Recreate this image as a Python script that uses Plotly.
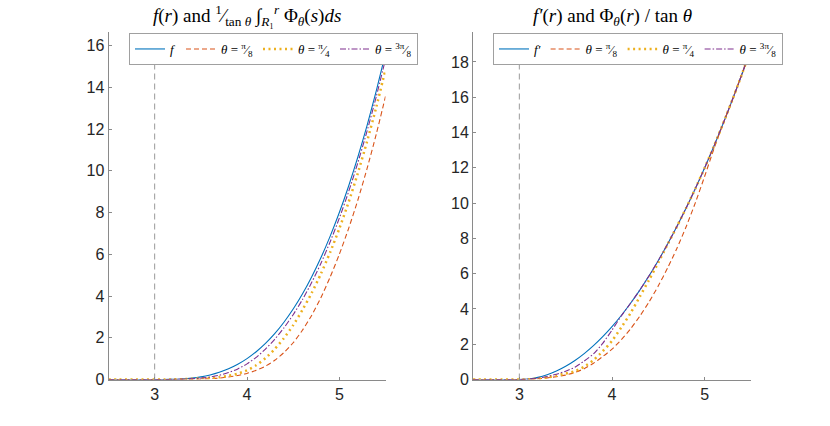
import plotly.graph_objects as go

# radius samples
r = [2.5, 2.6, 2.7, 2.8, 2.9, 3.0, 3.1, 3.2, 3.3, 3.4, 3.5, 3.6, 3.7, 3.8, 3.9, 4.0,
     4.1, 4.2, 4.3, 4.4, 4.5, 4.6, 4.7, 4.8, 4.9, 5.0, 5.1, 5.2, 5.3, 5.4, 5.5]
R1 = 3

# left panel: f(r) and 1/tan(theta) * int Phi
f_left = [0, 0, 0, 0, 0, 0,
          0.001, 0.008, 0.027, 0.064, 0.125, 0.216, 0.343, 0.512, 0.729, 1.0,
          1.331, 1.728, 2.197, 2.744, 3.375, 4.096, 4.913, 5.832, 6.859, 8.0,
          9.261, 10.648, 12.167, 13.824, 15.625]
t1_left = [0, 0, 0, 0, 0, 0,
           0.0, 0.001, 0.004, 0.01, 0.02, 0.04, 0.07, 0.12, 0.19, 0.29,
           0.44, 0.64, 0.92, 1.29, 1.76, 2.36, 3.07, 3.92, 4.90, 6.0,
           7.23, 8.59, 10.1, 11.76, 13.56]
t2_left = [0, 0, 0, 0, 0, 0,
           0.001, 0.007, 0.017, 0.034, 0.055, 0.076, 0.113, 0.172, 0.279, 0.44,
           0.68, 1.02, 1.46, 1.98, 2.6, 3.33, 4.14, 5.06, 6.09, 7.23,
           8.49, 9.88, 11.4, 13.05, 14.86]
t3_left = [0, 0, 0, 0, 0, 0,
           0.001, 0.006, 0.017, 0.034, 0.065, 0.116, 0.203, 0.332, 0.509, 0.75,
           1.061, 1.458, 1.927, 2.474, 3.105, 3.826, 4.643, 5.562, 6.589, 7.73,
           8.991, 10.378, 11.897, 13.554, 15.355]

# right panel: f'(r) and Phi/tan(theta)
f_right = [0, 0, 0, 0, 0, 0,
           0.03, 0.12, 0.27, 0.48, 0.75, 1.08, 1.47, 1.92, 2.43, 3.0,
           3.63, 4.32, 5.07, 5.88, 6.75, 7.68, 8.67, 9.72, 10.83, 12.0,
           13.23, 14.52, 15.87, 17.28, 18.75]
t1_right = [0, 0, 0, 0, 0, 0,
            0.01, 0.04, 0.09, 0.16, 0.25, 0.40, 0.61, 0.92, 1.30, 1.72,
            2.25, 2.87, 3.59, 4.40, 5.31, 6.32, 7.43, 8.66, 10.03, 11.52,
            13.08, 14.52, 15.87, 17.28, 18.75]
t2_right = [0, 0, 0, 0, 0, 0,
            0.01, 0.05, 0.12, 0.22, 0.34, 0.47, 0.72, 1.10, 1.60, 2.19,
            2.95, 3.76, 4.70, 5.65, 6.63, 7.66, 8.67, 9.72, 10.83, 12.0,
            13.23, 14.52, 15.87, 17.28, 18.75]
t3_right = [0, 0, 0, 0, 0, 0,
            0.02, 0.08, 0.17, 0.30, 0.47, 0.70, 1.05, 1.45, 2.05, 2.80,
            3.60, 4.32, 5.07, 5.88, 6.75, 7.68, 8.67, 9.72, 10.83, 12.0,
            13.23, 14.52, 15.87, 17.28, 18.75]

x_ticks = [3, 4, 5]
y_ticks_left = [0, 2, 4, 6, 8, 10, 12, 14, 16]
y_ticks_right = [0, 2, 4, 6, 8, 10, 12, 14, 16, 18]

names_left = ["<i>f</i>", "<i>θ</i> = <sup>π</sup>⁄<sub>8</sub>",
              "<i>θ</i> = <sup>π</sup>⁄<sub>4</sub>", "<i>θ</i> = <sup>3π</sup>⁄<sub>8</sub>"]
names_right = ["<i>f′</i>"] + names_left[1:]

styles = [dict(color="#0072BD", width=1.1, dash="solid"),
          dict(color="#D95319", width=1.1, dash="5px,3px"),
          dict(color="#EDB120", width=2.5, dash="2px,3.5px"),
          dict(color="#7E2F8E", width=1.1, dash="6px,2px,1.5px,2px")]

fig = go.Figure()

for i, ys in enumerate([f_left, t1_left, t2_left, t3_left]):
    fig.add_trace(go.Scatter(x=r, y=ys, mode="lines", name=names_left[i], line=styles[i],
                             line_shape="spline", line_smoothing=0.6,
                             xaxis="x", yaxis="y", legend="legend"))
for i, ys in enumerate([f_right, t1_right, t2_right, t3_right]):
    fig.add_trace(go.Scatter(x=r, y=ys, mode="lines", name=names_right[i], line=styles[i],
                             line_shape="spline", line_smoothing=0.6,
                             xaxis="x2", yaxis="y2", legend="legend2"))

# dashed line at R1
for xr, yr in [("x", "y domain"), ("x2", "y2 domain")]:
    fig.add_shape(type="line", xref=xr, yref=yr, x0=R1, x1=R1, y0=0, y1=1,
                  line=dict(color="#9a9a9a", width=1, dash="6px,4px"), layer="below")

W, H = 830, 426
ydom = [46.5 / H, 394 / H]
tickfont = dict(family="Liberation Sans, Arial", size=16, color="#262626")
axcommon = dict(showgrid=False, zeroline=False, showline=True, linecolor="#8a8a8a",
                linewidth=1, ticks="inside", ticklen=3, tickcolor="#8a8a8a",
                tickfont=tickfont, mirror=False, automargin=False)
legfont = dict(family="Liberation Serif, DejaVu Serif", size=13, color="black")

fig.update_layout(
    width=W, height=H,
    margin=dict(l=0, r=0, t=0, b=0, autoexpand=False),
    plot_bgcolor="white", paper_bgcolor="white",
    xaxis=dict(domain=[108.5 / W, 385.5 / W], range=[2.5, 5.5], tickvals=x_ticks,
               anchor="y", **axcommon),
    yaxis=dict(domain=ydom, range=[0, 16.65], tickvals=y_ticks_left, anchor="x", **axcommon),
    xaxis2=dict(domain=[473 / W, 751 / W], range=[2.5, 5.5], tickvals=x_ticks,
                anchor="y2", **axcommon),
    yaxis2=dict(domain=ydom, range=[0, 19.7], tickvals=y_ticks_right, anchor="x2", **axcommon),
    legend=dict(orientation="h", x=129 / W, y=1 - 33 / H, xanchor="left", yanchor="top",
                bgcolor="white", bordercolor="#a0a0a0", borderwidth=1,
                font=legfont, itemwidth=30, tracegroupgap=0),
    legend2=dict(orientation="h", x=493 / W, y=1 - 33 / H, xanchor="left", yanchor="top",
                 bgcolor="white", bordercolor="#a0a0a0", borderwidth=1,
                 font=legfont, itemwidth=30, tracegroupgap=0),
    showlegend=True,
)

titlefont = dict(family="Liberation Serif, DejaVu Serif", size=19, color="black")
fig.add_annotation(x=247 / W, y=1 - 16 / H, xref="paper", yref="paper", showarrow=False,
                   text="<i>f</i>(<i>r</i>) and <sup>1</sup>⁄<sub>tan <i>θ</i></sub> "
                        "∫<sub><i>R</i>₁</sub><sup><i>r</i></sup> Φ<sub><i>θ</i></sub>(<i>s</i>)<i>ds</i>",
                   font=titlefont, xanchor="center", yanchor="middle")
fig.add_annotation(x=612 / W, y=1 - 17 / H, xref="paper", yref="paper", showarrow=False,
                   text="<i>f′</i>(<i>r</i>) and Φ<sub><i>θ</i></sub>(<i>r</i>) / tan <i>θ</i>",
                   font=titlefont, xanchor="center", yanchor="middle")

# page body has a default margin; drop it so the figure sits at the window corner
fig.write_html("out.html", config={"displayModeBar": False},
               post_script="document.body.style.margin = '0';")
